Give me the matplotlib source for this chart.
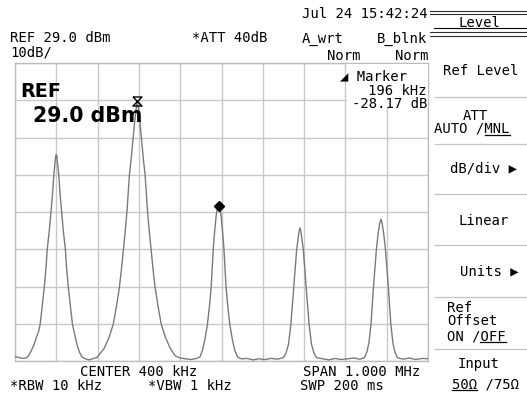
import numpy as np
import matplotlib
matplotlib.use("Agg")
import matplotlib.pyplot as plt
from matplotlib.path import Path
from matplotlib.patches import Rectangle

# --- screen settings (center 400 kHz, span 1 MHz, ref 29 dBm, 10 dB/div) ---
x_ticks_khz = [-100, 0, 100, 200, 300, 400, 500, 600, 700, 800, 900]
y_ticks_dbm = [-51, -41, -31, -21, -11, -1, 9, 19, 29]

# --- trace, one chunk per peak ---
tr1_khz = [-100, -90, -80, -72, -66, -60, -54, -48, -43, -39, -34, -29, -25, -22, -17, -13, -9, -6, -3, -1,
           1, 3, 6, 9, 13, 17, 22, 25, 29, 34, 39, 44, 50, 56, 62, 70, 80, 90, 98]
tr1_dbm = [-49.7, -50.0, -50.2, -50.0, -49.3, -48.0, -46.5, -44.5, -43.0, -41.0, -36.0, -31.0, -26.0, -21.0,
           -16.0, -11.0, -6.0, -1.0, 2.5, 4.3,
           4.3, 2.0, -1.0, -6.0, -11.0, -16.0, -21.0, -26.0, -31.0, -36.0, -41.0, -43.5, -46.5, -48.5, -49.8,
           -50.3, -50.6, -50.2, -50.0]

tr2_khz = [106, 116, 128, 138, 146, 153, 158, 162.5, 167, 171, 174, 177, 181, 186, 190, 193, 196,
           199, 202, 206, 211, 215, 218, 221, 225, 229.5, 234, 239, 246, 254, 264, 276, 288, 300]
tr2_dbm = [-48.9, -47.5, -44.5, -41.0, -36.0, -31.0, -26.0, -21.0, -16.0, -11.0, -6.0, -1.0, 3.0, 9.0, 13.5,
           16.5, 18.9, 16.5, 13.5, 9.0, 3.0, -1.0, -6.0, -11.0, -16.0, -21.0, -26.0, -31.0, -36.0, -41.0,
           -44.5, -47.5, -49.5, -50.1]

tr3_khz = [312, 326, 340, 348, 354, 360, 366, 371, 375, 377.5, 380, 383.5, 387, 390, 393,
           396, 399, 402.5, 406, 408.5, 411, 415, 420, 426, 432, 439]
tr3_dbm = [-50.3, -50.5, -50.2, -49.8, -48.0, -45.0, -41.0, -36.0, -31.0, -26.0, -21.0, -16.0, -12.0, -10.0,
           -9.3, -10.0, -12.0, -16.0, -21.0, -26.0, -31.0, -36.0, -41.0, -45.0, -48.0, -49.8]

tr4_khz = [448, 462, 476, 490, 505, 520, 535, 550, 556, 562, 568, 571.5, 575, 578.5, 582, 585, 588, 590,
           592, 595, 598, 601.5, 605, 608.5, 612, 618, 624, 630]
tr4_dbm = [-50.3, -50.2, -50.6, -50.3, -50.5, -50.2, -50.4, -50.0, -48.8, -46.5, -41.0, -36.0, -31.0, -26.0,
           -21.0, -18.5, -16.0, -15.2, -16.0, -18.5, -21.0, -26.0, -31.0, -36.0, -41.0, -46.5, -48.8, -50.0]

tr5_khz = [645, 660, 675, 690, 705, 720, 735, 746, 752, 757, 762, 765, 768, 771.5, 775, 779, 783, 786,
           789, 793, 797, 800.5, 804, 807, 810, 815, 820, 826, 840, 855, 870, 885, 900]
tr5_dbm = [-50.3, -50.6, -50.2, -50.5, -50.3, -50.1, -50.4, -50.0, -48.5, -46.0, -41.0, -36.0, -31.0, -26.0,
           -21.0, -17.0, -14.0, -12.9, -14.0, -17.0, -21.0, -26.0, -31.0, -36.0, -41.0, -46.0, -48.5, -50.0,
           -50.4, -50.1, -50.5, -50.2, -50.3]

# reference marker (peak 2) and delta marker (peak 3)
ref_marker_khz, ref_marker_dbm = [196], [18.9]
delta_marker_khz, delta_marker_dbm = [393], [-9.3]

FS = 10                                  # lcd font size, pt
ADV = FS * 100 / 72 * 0.6021             # mono advance, px
MONO = ["DejaVu Sans Mono", "DejaVu Sans"]


def _lcd(ax, x, y, s, ha="left", under=None):
    """Monospace screen text, y is the vertical middle of the caps."""
    n = len(s)
    x0 = x if ha == "left" else (x - n * ADV / 2 if ha == "center" else x - n * ADV)
    base = y + 5
    ax.text(x0, base, s, ha="left", va="baseline", fontsize=FS, family=MONO, color="black", zorder=5)
    if under:
        i0, i1 = under
        ax.plot([x0 + i0 * ADV, x0 + i1 * ADV], [base + 1.5, base + 1.5], color="black", lw=0.9, zorder=5)


fig = plt.figure(figsize=(5.27, 3.99), dpi=100)
fig.patch.set_facecolor("white")

# --- graticule + trace ---
ax = fig.add_axes([15 / 527, 1 - 361.4 / 399, 413 / 527, 298.4 / 399], zorder=1)
ax.set_xlim(-100, 900)
ax.set_ylim(-51, 29)
ax.set_xticks(x_ticks_khz)
ax.set_yticks(y_ticks_dbm)
ax.tick_params(length=0, labelbottom=False, labelleft=False)
ax.grid(True, color="#c8c8c8", lw=1.0)
for sp in ax.spines.values():
    sp.set_color("#bdbdbd")
    sp.set_linewidth(1.0)

trace_khz = tr1_khz + tr2_khz + tr3_khz + tr4_khz + tr5_khz
trace_dbm = tr1_dbm + tr2_dbm + tr3_dbm + tr4_dbm + tr5_dbm
ax.plot(trace_khz, trace_dbm, color="#7a7a7a", lw=1.0, zorder=3)

hourglass = Path([(-1, 1), (1, 1), (-1, -1), (1, -1), (-1, 1)])
ax.plot(ref_marker_khz, ref_marker_dbm, ls="none", marker=hourglass, ms=6.5,
        mfc="none", mec="black", mew=1.0, zorder=4, clip_on=False)
ax.plot(delta_marker_khz, delta_marker_dbm, ls="none", marker="D", ms=5.5,
        color="black", zorder=4)

# --- overlay in screen pixels for all the readouts ---
ov = fig.add_axes([0, 0, 1, 1], zorder=3)
ov.set_xlim(0, 527)
ov.set_ylim(399, 0)
ov.axis("off")
ov.patch.set_alpha(0)

# marker readout box hides the graticule behind it
ov.add_patch(Rectangle((347, 64), 80.5, 44, fc="white", ec="none", zorder=2))

_lcd(ov, 427, 13, "Jul 24 15:42:24", ha="right")
_lcd(ov, 10, 37.5, "REF 29.0 dBm")
_lcd(ov, 192, 37.5, "*ATT 40dB")
_lcd(ov, 302, 37.5, "A_wrt")
_lcd(ov, 427, 37.5, "B_blnk", ha="right")
_lcd(ov, 10, 51, "10dB/")
_lcd(ov, 360, 55, "Norm", ha="right")
_lcd(ov, 428, 55, "Norm", ha="right")

_lcd(ov, 407, 75, "◢ Marker", ha="right")
_lcd(ov, 427, 90, "196 kHz", ha="right")
_lcd(ov, 427, 103, "-28.17 dB", ha="right")

ov.text(20, 97, "REF", fontsize=13.8, weight="bold", family="DejaVu Sans", va="baseline", zorder=5)
ov.text(33, 122.5, "29.0 dBm", fontsize=14.8, weight="bold", family="DejaVu Sans", va="baseline", zorder=5)

_lcd(ov, 139, 371.5, "CENTER 400 kHz", ha="center")
_lcd(ov, 362, 371.5, "SPAN 1.000 MHz", ha="center")
_lcd(ov, 10, 385, "*RBW 10 kHz")
_lcd(ov, 148, 385, "*VBW 1 kHz")
_lcd(ov, 300, 385, "SWP 200 ms")

# --- soft key menu on the right ---
for yy in (10.5, 13.5, 32, 35.5):
    ov.plot([430, 527], [yy, yy], color="#303030", lw=0.8)
ov.plot([434, 527], [28.3, 28.3], color="black", lw=0.8)
for yy in (96.7, 144, 194, 245, 296.7, 349):
    ov.plot([435, 527], [yy, yy], color="#c4c4c4", lw=0.9)

_lcd(ov, 479, 22, "Level", ha="center")
_lcd(ov, 481, 70, "Ref Level", ha="center")
_lcd(ov, 475, 115, "ATT", ha="center")
_lcd(ov, 472, 128, "AUTO /MNL", ha="center", under=(6, 9))
_lcd(ov, 483, 168, "dB/div ▶", ha="center")
_lcd(ov, 484, 220, "Linear", ha="center")
_lcd(ov, 489, 270, "Units ▶", ha="center")
_lcd(ov, 447, 306.7, "Ref")
_lcd(ov, 447, 320, "Offset")
_lcd(ov, 447, 335.7, "ON /OFF", under=(4, 7))
_lcd(ov, 479, 363.3, "Input", ha="center")
_lcd(ov, 485.5, 383.3, "50Ω /75Ω", ha="center", under=(0, 3))

fig.savefig("out.png", dpi=100, facecolor="white")
